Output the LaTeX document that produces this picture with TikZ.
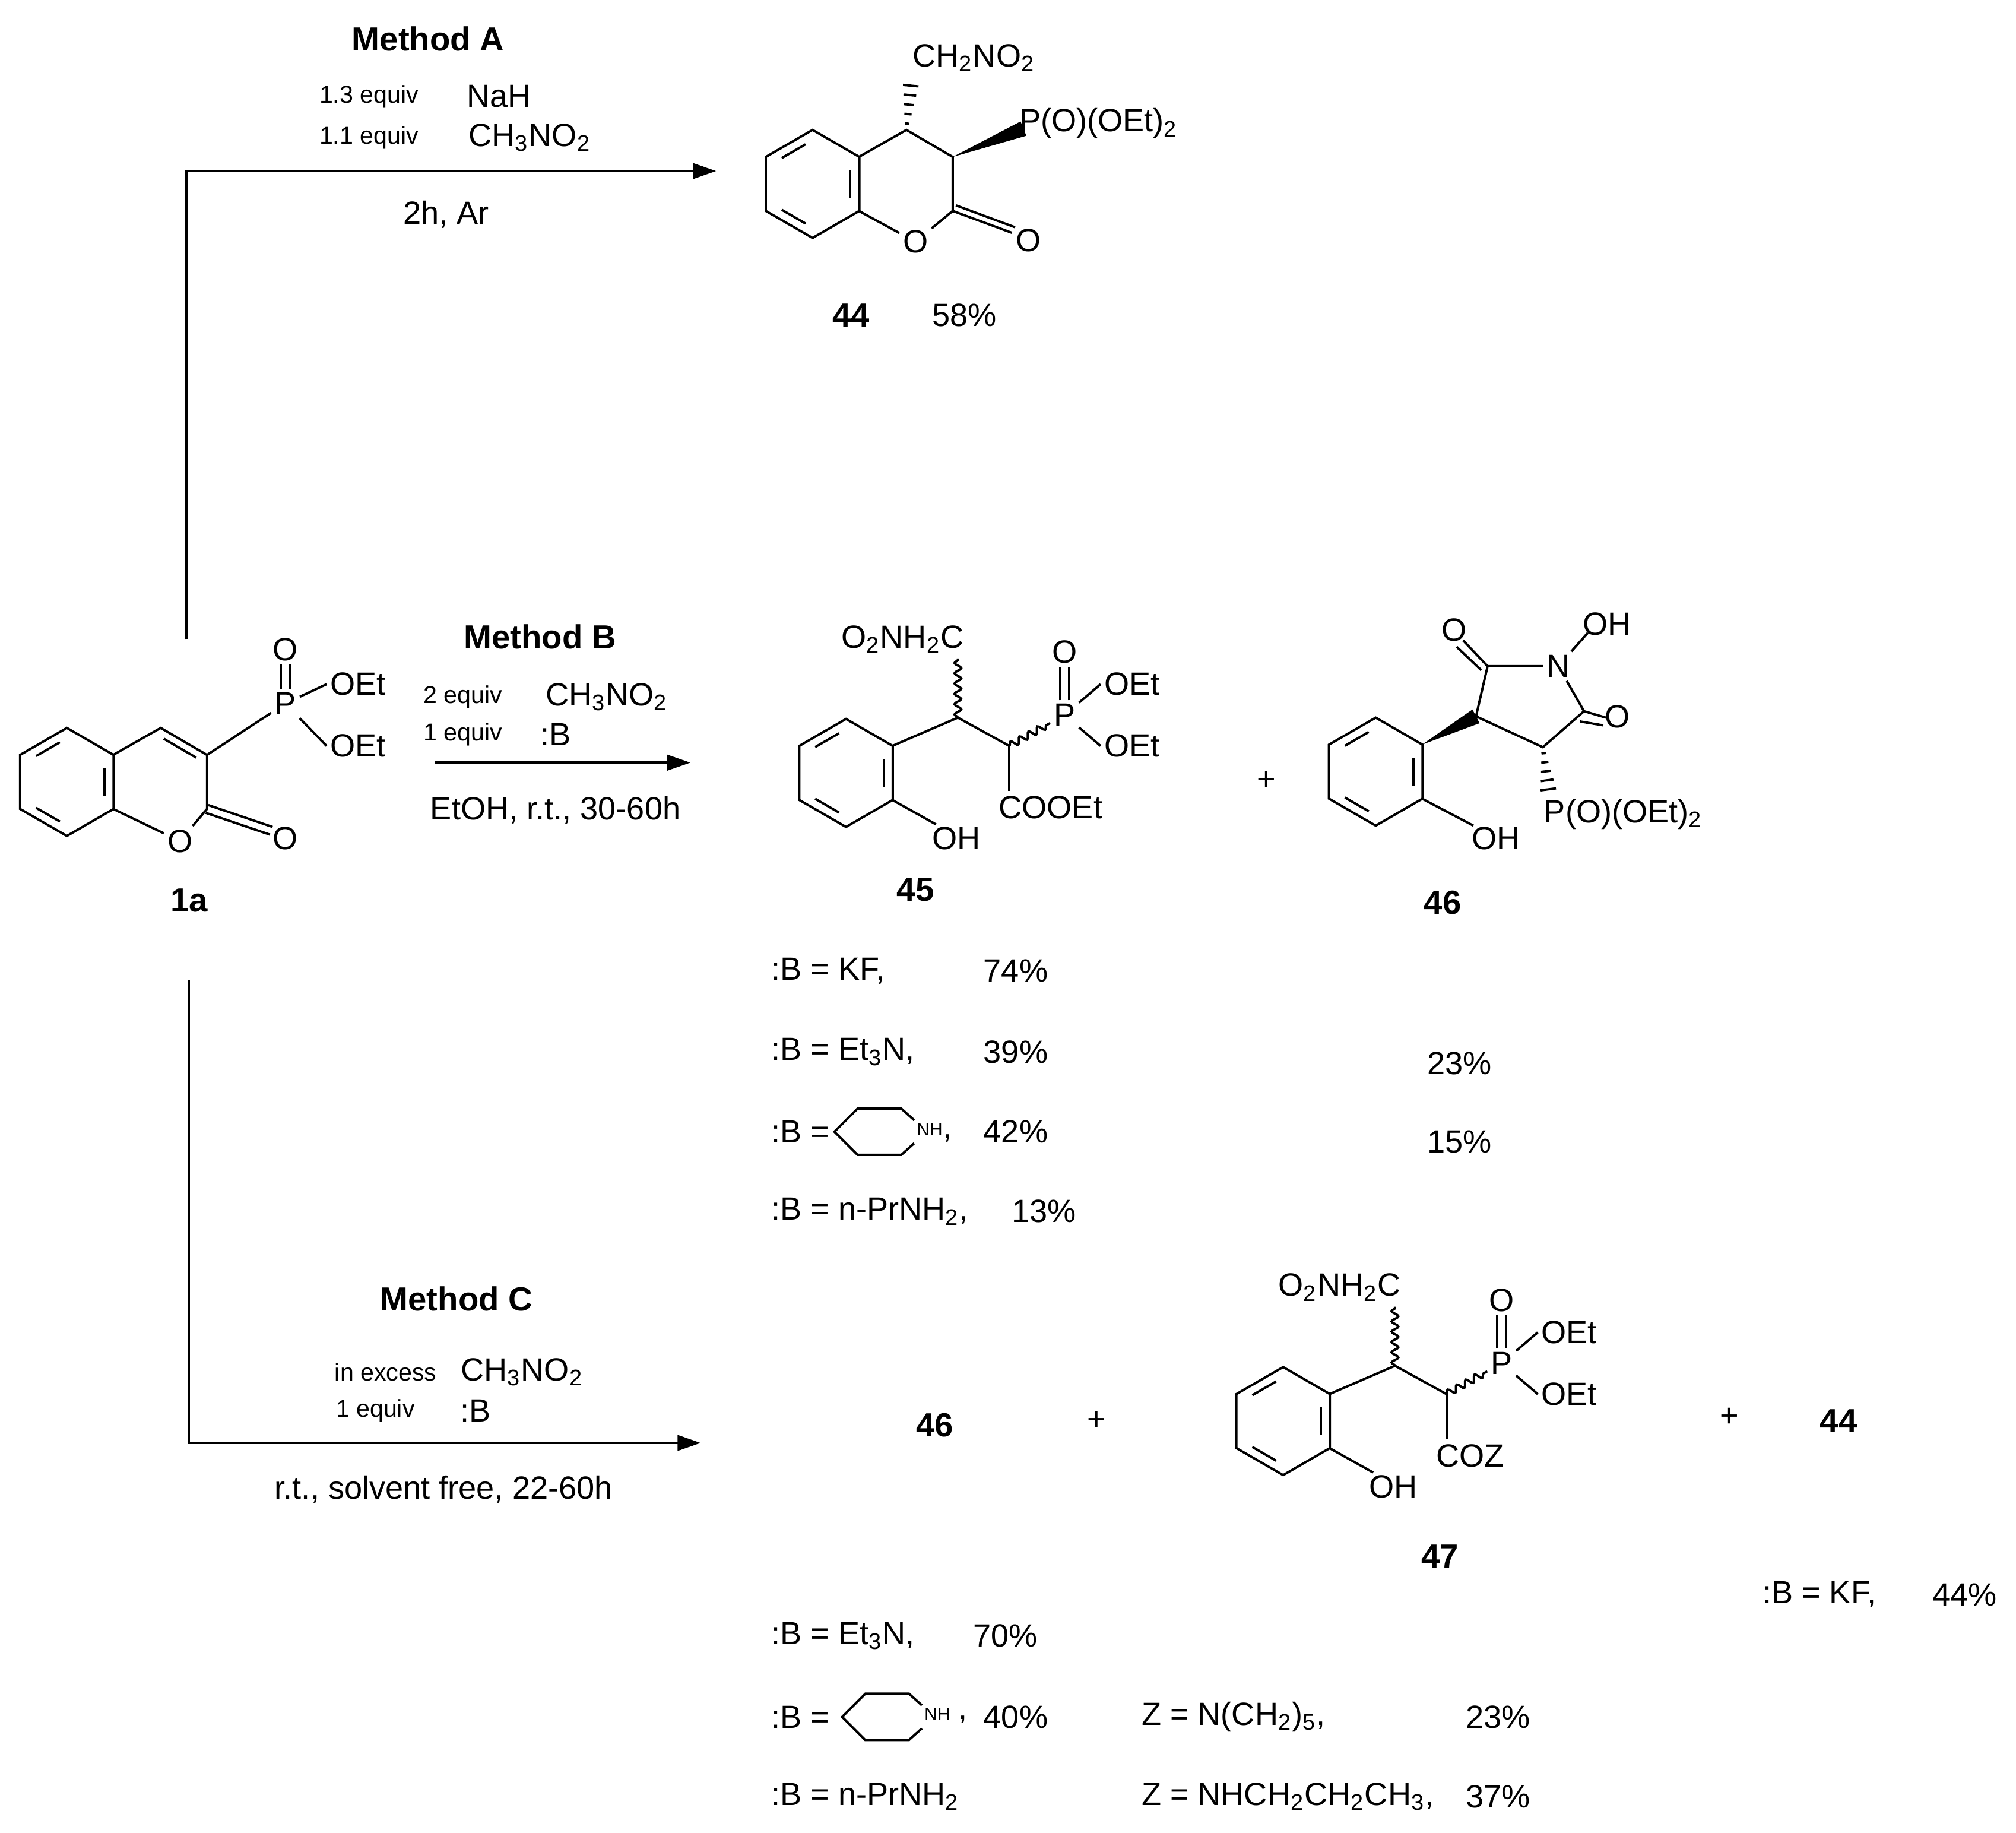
\documentclass[tikz,border=0pt]{standalone}
\usepackage{fontspec}
\setmainfont{Liberation Sans}
\usetikzlibrary{calc,decorations.pathmorphing,arrows.meta}
\newcommand\subs[1]{\textsubscript{#1}}
\newcommand\hashb[2]{\foreach \t in {0.12,0.3,0.48,0.66,0.84}{\draw[line width=0.9pt] ($(#1)!\t!(#2)!{\t*3pt+0.5pt}!90:(#2)$) -- ($(#1)!\t!(#2)!{\t*3pt+0.5pt}!-90:(#2)$);}}
\newcommand\wedgeb[2]{\fill (#1) -- ($(#2)!3pt!90:(#1)$) -- ($(#2)!3pt!-90:(#1)$) -- cycle;}
\tikzset{
 lbl/.style={font=\fontsize{12.5}{14}\selectfont, inner sep=1pt},
 sm/.style={font=\fontsize{9.5}{11}\selectfont, inner sep=1pt},
 bd/.style={font=\bfseries\fontsize{13}{15}\selectfont, inner sep=1pt},
 wavy/.style={decorate, decoration={snake, amplitude=1.3pt, segment length=4pt}},
 benz/.pic={\draw (30:42)--(90:42)--(150:42)--(210:42)--(270:42)--(330:42)--cycle;
   \foreach \a in {90,210,330}{\draw (\a+10:31.3)--(\a+50:31.3);}},
 pip/.pic={\draw (27,-9)--(17,-18)--(-17,-18)--(-35,0)--(-17,18)--(17,18)--(27,9);
   \node[font=\fontsize{7}{8}\selectfont,inner sep=0pt] at (39,-2) {NH};}
}
\begin{document}
\begin{tikzpicture}[x=0.5pt,y=-0.5pt,line width=0.9pt]
\useasboundingbox (0,0) rectangle (1568,1425);
% ---- Method A
\node[bd] (mA) at (333,30) {Method A};
\node[sm] (a1) at (287,75) {1.3 equiv}; \node[lbl] (a2) at (388,75) {NaH};
\node[sm] (a3) at (287,107) {1.1 equiv}; \node[lbl] (a4) at (412,107) {CH\subs{3}NO\subs{2}};
\node[lbl] (a5) at (347,167) {2h, Ar};
\coordinate (sA) at (145,497); \coordinate (cA) at (145,133); \coordinate (eA) at (557,133);
\draw[-{Triangle[length=9pt,width=6pt]}] (sA) -- (cA) -- (eA);
% ---- 44
\pic at (632,143) {benz};
\coordinate (c4) at (705,101); \coordinate (c3) at (741,122); \coordinate (c2) at (741,164);
\node[lbl] (o1) at (712,188) {O};
\draw (668,122)--(c4)--(c3)--(c2)--(o1)--(668,164);
\node[lbl] (o2) at (800,187) {O};
\draw (c2)--(787,181); \draw ($(c2)+(2.5,-4.3)$)--($(787,181)+(2.5,-4.3)$);
\node[lbl,anchor=west] (p44) at (790,96) {P(O)(OEt)\subs{2}};
\wedgeb{c3}{796,100}
\node[lbl,anchor=west] (n44) at (707,45) {CH\subs{2}NO\subs{2}};
\hashb{c4}{709,60}
\node[bd] (l44) at (662,245) {44}; \node[lbl] (y44) at (750,245) {58\%};
% ---- 1a
\pic at (52,608) {benz};
\coordinate (d4) at (125,566); \coordinate (d3) at (161,587); \coordinate (d2) at (161,629);
\node[lbl] (do1) at (140,654) {O};
\draw (88,587)--(d4)--(d3)--(d2)--(do1)--(88,629);
\draw (127.4,574.4)--(152.6,589.1);
\node[lbl] (do2) at (222,652) {O};
\draw (162,626)--(212,643); \draw (160,632)--(210,649);
\node[lbl] (P1) at (222,547) {P};
\node[lbl] (PO1) at (222,505) {O};
\draw (d3)--(P1);
\draw ([xshift=-1.8pt]P1.north)--([xshift=-1.8pt]PO1.south);
\draw ([xshift=1.8pt]P1.north)--([xshift=1.8pt]PO1.south);
\node[lbl,anchor=west] (E1) at (254,532) {OEt};
\node[lbl,anchor=west] (E2) at (254,580) {OEt};
\draw (P1)--(E1.west); \draw (P1)--(E2.west);
\node[bd] (l1a) at (147,700) {1a};
% ---- Method B
\node[bd] (mB) at (420,495) {Method B};
\node[sm] (b1) at (360,542) {2 equiv}; \node[lbl] (b2) at (472,542) {CH\subs{3}NO\subs{2}};
\node[sm] (b3) at (360,571) {1 equiv}; \node[lbl] (b4) at (432,571) {:B};
\coordinate (sB) at (338,593); \coordinate (eB) at (537,593);
\draw[-{Triangle[length=9pt,width=6pt]}] (sB) -- (eB);
\node[lbl] (b5) at (432,630) {EtOH, r.t., 30-60h};
% ---- 45 and 47
\foreach \dx/\dy/\Z in {0/0/COOEt,340/504/COZ}{
\begin{scope}[shift={(\dx,\dy)}]
\pic at (658,601) {benz};
\coordinate (ca) at (745,558); \coordinate (cb) at (785,580);
\draw (694,580)--(ca)--(cb);
\node[lbl] (nt) at (702,497) {O\subs{2}NH\subs{2}C};
\draw[wavy] (ca)--(745,512);
\node[lbl] (pp) at (828,556) {P};
\node[lbl] (po) at (828,507) {O};
\draw[wavy] (cb)--(pp);
\draw ([xshift=-1.8pt]pp.north)--([xshift=-1.8pt]po.south);
\draw ([xshift=1.8pt]pp.north)--([xshift=1.8pt]po.south);
\node[lbl,anchor=west] (e1) at (856,532) {OEt};
\node[lbl,anchor=west] (e2) at (856,580) {OEt};
\draw (pp)--(e1.west); \draw (pp)--(e2.west);
\node[lbl,anchor=west] (co) at (774,628) {\Z};
\draw (cb)--(785,615);
\node[lbl,anchor=west] (oh) at (722,652) {OH};
\draw (694,622)--(728,641);
\end{scope}}
\node[bd] (l45) at (712,692) {45};
\node[bd] (l47) at (1120,1210) {47};
% ---- + and 46
\node[lbl] (pl1) at (985,607) {+};
\pic at (1070,600) {benz};
\coordinate (f1) at (1106,579);
\coordinate (fa) at (1148,557); \coordinate (fb) at (1157,518); \coordinate (fd) at (1232,553); \coordinate (fe) at (1200,581);
\node[lbl] (fN) at (1212,518) {N};
\wedgeb{f1}{fa}
\draw (fa)--(fb)--(fN)--(fd)--(fe)--(fa);
\node[lbl] (fO1) at (1131,490) {O};
\draw (fb)--(1138,498); \draw (1152,521)--(1133,503);
\node[lbl] (fO2) at (1258,557) {O};
\draw (fd)--(1249,558); \draw (1229,561)--(1247,564);
\node[lbl] (fOH) at (1250,485) {OH};
\draw (fN)--(1235,492);
\node[lbl,anchor=west] (fP) at (1198,633) {P(O)(OEt)\subs{2}};
\hashb{fe}{1205,620}
\node[lbl,anchor=west] (foh) at (1142,652) {OH};
\draw (1106,621)--(1146,642);
\node[bd] (l46) at (1122,702) {46};
% ---- B table
\node[lbl,anchor=west] at (597,755) {:B = KF,};  \node[lbl] at (790,755) {74\%};
\node[lbl,anchor=west] at (597,818) {:B = Et\subs{3}N,}; \node[lbl] at (790,818) {39\%};
\node[lbl] at (1135,827) {23\%};
\node[lbl,anchor=west] at (597,880) {:B =}; \pic at (684,880) {pip}; \node[lbl] at (737,885) {,};
\node[lbl] at (790,880) {42\%}; \node[lbl] at (1135,888) {15\%};
\node[lbl,anchor=west] at (597,942) {:B = n-PrNH\subs{2},}; \node[lbl] at (812,942) {13\%};
% ---- Method C
\node[bd] (mC) at (355,1010) {Method C};
\node[sm] (c1) at (300,1067) {in excess}; \node[lbl] (c2l) at (406,1067) {CH\subs{3}NO\subs{2}};
\node[sm] (c3l) at (292,1097) {1 equiv}; \node[lbl] (c4l) at (370,1097) {:B};
\coordinate (sC) at (147,762); \coordinate (cC) at (147,1122); \coordinate (eC) at (545,1122);
\draw[-{Triangle[length=9pt,width=6pt]}] (sC) -- (cC) -- (eC);
\node[lbl] (c5) at (345,1158) {r.t., solvent free, 22-60h};
\node[bd] at (727,1108) {46};
\node[lbl] at (853,1105) {+};
\node[lbl] at (1345,1102) {+};
\node[bd] at (1430,1105) {44};
\node[lbl,anchor=west] at (1368,1240) {:B = KF,}; \node[lbl] at (1528,1240) {44\%};
\node[lbl,anchor=west] at (597,1272) {:B = Et\subs{3}N,}; \node[lbl] at (782,1272) {70\%};
\node[lbl,anchor=west] at (597,1335) {:B =}; \pic at (690,1335) {pip}; \node[lbl] at (749,1337) {,};
\node[lbl] at (790,1335) {40\%};
\node[lbl,anchor=west] at (885,1335) {Z = N(CH\subs{2})\subs{5},}; \node[lbl] at (1165,1335) {23\%};
\node[lbl,anchor=west] at (597,1397) {:B = n-PrNH\subs{2}};
\node[lbl,anchor=west] at (885,1397) {Z = NHCH\subs{2}CH\subs{2}CH\subs{3},}; \node[lbl] at (1165,1397) {37\%};
\end{tikzpicture}
\end{document}
